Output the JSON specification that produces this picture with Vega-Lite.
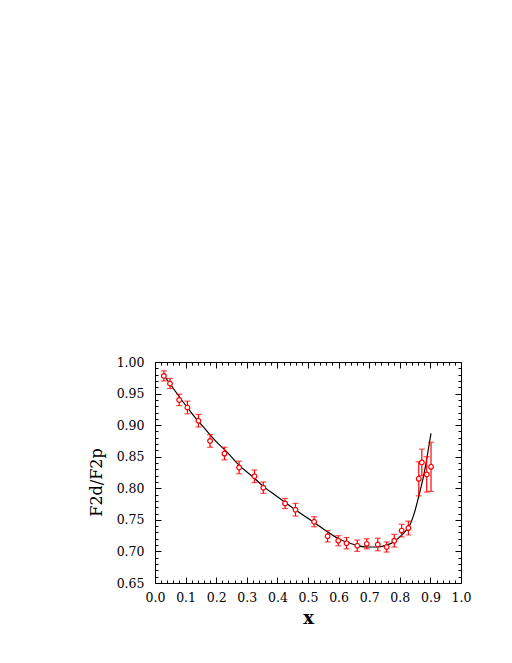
{
  "$schema": "https://vega.github.io/schema/vega-lite/v6.json",
  "width": 306,
  "height": 221,
  "autosize": {"type": "none"},
  "padding": {"left": 155, "top": 362, "right": 51, "bottom": 80},
  "background": "white",
  "config": {
    "view": {"stroke": "black", "strokeWidth": 1},
    "axis": {
      "domain": false,
      "grid": false,
      "tickColor": "black",
      "tickWidth": 1,
      "labelFont": "DejaVu Serif",
      "labelFontSize": 12.5,
      "labelColor": "black",
      "labelFlush": false,
      "titleFont": "DejaVu Serif",
      "titleColor": "black",
      "labelOverlap": false
    }
  },
  "datasets": {
    "curve": [
      {"x": 0.029, "y": 0.979}, {"x": 0.06, "y": 0.958}, {"x": 0.104, "y": 0.929},
      {"x": 0.14, "y": 0.907}, {"x": 0.169, "y": 0.891}, {"x": 0.2, "y": 0.874},
      {"x": 0.234, "y": 0.858}, {"x": 0.278, "y": 0.835}, {"x": 0.32, "y": 0.818},
      {"x": 0.354, "y": 0.803}, {"x": 0.39, "y": 0.790}, {"x": 0.43, "y": 0.776},
      {"x": 0.474, "y": 0.761}, {"x": 0.52, "y": 0.746}, {"x": 0.564, "y": 0.731},
      {"x": 0.6, "y": 0.720}, {"x": 0.65, "y": 0.711}, {"x": 0.692, "y": 0.707},
      {"x": 0.72, "y": 0.707}, {"x": 0.757, "y": 0.710}, {"x": 0.78, "y": 0.715},
      {"x": 0.8, "y": 0.723}, {"x": 0.82, "y": 0.733}, {"x": 0.833, "y": 0.742},
      {"x": 0.845, "y": 0.757}, {"x": 0.855, "y": 0.774}, {"x": 0.866, "y": 0.795},
      {"x": 0.877, "y": 0.818}, {"x": 0.885, "y": 0.838}, {"x": 0.893, "y": 0.861},
      {"x": 0.902, "y": 0.887}
    ],
    "pts": [
      {"x": 0.029, "y": 0.978, "err": 0.008},
      {"x": 0.049, "y": 0.966, "err": 0.008},
      {"x": 0.079, "y": 0.940, "err": 0.009},
      {"x": 0.106, "y": 0.928, "err": 0.010},
      {"x": 0.142, "y": 0.907, "err": 0.010},
      {"x": 0.180, "y": 0.875, "err": 0.010},
      {"x": 0.227, "y": 0.855, "err": 0.010},
      {"x": 0.275, "y": 0.833, "err": 0.010},
      {"x": 0.325, "y": 0.819, "err": 0.010},
      {"x": 0.354, "y": 0.801, "err": 0.009},
      {"x": 0.425, "y": 0.776, "err": 0.008},
      {"x": 0.459, "y": 0.766, "err": 0.010},
      {"x": 0.520, "y": 0.747, "err": 0.008},
      {"x": 0.564, "y": 0.724, "err": 0.009},
      {"x": 0.599, "y": 0.717, "err": 0.008},
      {"x": 0.626, "y": 0.713, "err": 0.009},
      {"x": 0.661, "y": 0.709, "err": 0.009},
      {"x": 0.692, "y": 0.712, "err": 0.008},
      {"x": 0.728, "y": 0.711, "err": 0.010},
      {"x": 0.757, "y": 0.707, "err": 0.008},
      {"x": 0.782, "y": 0.717, "err": 0.010},
      {"x": 0.806, "y": 0.733, "err": 0.010},
      {"x": 0.828, "y": 0.737, "err": 0.011},
      {"x": 0.862, "y": 0.815, "err": 0.027},
      {"x": 0.872, "y": 0.841, "err": 0.021},
      {"x": 0.888, "y": 0.822, "err": 0.028},
      {"x": 0.902, "y": 0.834, "err": 0.039}
    ]
  },
  "layer": [
    {
      "data": {"name": "curve"},
      "mark": {"type": "line", "color": "black", "strokeWidth": 1.2, "interpolate": "monotone"},
      "encoding": {
        "x": {
          "field": "x", "type": "quantitative",
          "scale": {"domain": [0, 1], "nice": false, "zero": false},
          "axis": {
            "orient": "bottom",
            "title": "x",
            "titleFontSize": 18,
            "titleFontWeight": "bold",
            "titlePadding": 3,
            "values": [0,0.02,0.04,0.06,0.08,0.1,0.12,0.14,0.16,0.18,0.2,0.22,0.24,0.26,0.28,0.3,0.32,0.34,0.36,0.38,0.4,0.42,0.44,0.46,0.48,0.5,0.52,0.54,0.56,0.58,0.6,0.62,0.64,0.66,0.68,0.7,0.72,0.74,0.76,0.78,0.8,0.82,0.84,0.86,0.88,0.9,0.92,0.94,0.96,0.98,1.0],
            "labelExpr": "abs(datum.value*10 - round(datum.value*10)) < 0.001 ? format(datum.value, '.1f') : ''",
            "tickSize": {"condition": {"test": "abs(datum.value*10 - round(datum.value*10)) < 0.001", "value": -6}, "value": -3},
            "labelPadding": 14
          }
        },
        "y": {
          "field": "y", "type": "quantitative",
          "scale": {"domain": [0.65, 1.0], "nice": false, "zero": false},
          "axis": {
            "orient": "left",
            "title": "F2d/F2p",
            "titleFontSize": 16,
            "titleFontWeight": "normal",
            "titlePadding": 12,
            "titleY": 120,
            "values": [0.65,0.66,0.67,0.68,0.69,0.7,0.71,0.72,0.73,0.74,0.75,0.76,0.77,0.78,0.79,0.8,0.81,0.82,0.83,0.84,0.85,0.86,0.87,0.88,0.89,0.9,0.91,0.92,0.93,0.94,0.95,0.96,0.97,0.98,0.99,1.0],
            "labelExpr": "abs(datum.value*20 - round(datum.value*20)) < 0.001 ? format(datum.value, '.2f') : ''",
            "tickSize": {"condition": {"test": "abs(datum.value*20 - round(datum.value*20)) < 0.001", "value": -6}, "value": -3},
            "labelPadding": 17
          }
        }
      }
    },
    {
      "data": {"name": "pts"},
      "mark": {"type": "errorbar", "color": "red", "thickness": 1.2, "ticks": {"size": 6, "color": "red"}},
      "encoding": {
        "x": {
          "field": "x", "type": "quantitative",
          "scale": {"domain": [0, 1], "nice": false, "zero": false},
          "axis": {
            "orient": "top",
            "title": null,
            "labels": false,
            "values": [0,0.02,0.04,0.06,0.08,0.1,0.12,0.14,0.16,0.18,0.2,0.22,0.24,0.26,0.28,0.3,0.32,0.34,0.36,0.38,0.4,0.42,0.44,0.46,0.48,0.5,0.52,0.54,0.56,0.58,0.6,0.62,0.64,0.66,0.68,0.7,0.72,0.74,0.76,0.78,0.8,0.82,0.84,0.86,0.88,0.9,0.92,0.94,0.96,0.98,1.0],
            "tickSize": {"condition": {"test": "abs(datum.value*10 - round(datum.value*10)) < 0.001", "value": -6}, "value": -3}
          }
        },
        "y": {
          "field": "y", "type": "quantitative",
          "scale": {"domain": [0.65, 1.0], "nice": false, "zero": false},
          "axis": {
            "orient": "right",
            "title": null,
            "labels": false,
            "values": [0.65,0.66,0.67,0.68,0.69,0.7,0.71,0.72,0.73,0.74,0.75,0.76,0.77,0.78,0.79,0.8,0.81,0.82,0.83,0.84,0.85,0.86,0.87,0.88,0.89,0.9,0.91,0.92,0.93,0.94,0.95,0.96,0.97,0.98,0.99,1.0],
            "tickSize": {"condition": {"test": "abs(datum.value*20 - round(datum.value*20)) < 0.001", "value": -6}, "value": -3}
          }
        },
        "yError": {"field": "err"}
      }
    },
    {
      "data": {"name": "pts"},
      "mark": {"type": "point", "shape": "circle", "filled": true, "fill": "white", "stroke": "red", "strokeWidth": 1.2, "size": 22, "opacity": 1},
      "encoding": {
        "x": {"field": "x", "type": "quantitative", "axis": null},
        "y": {"field": "y", "type": "quantitative", "axis": null}
      }
    }
  ],
  "resolve": {"axis": {"x": "independent", "y": "independent"}}
}
